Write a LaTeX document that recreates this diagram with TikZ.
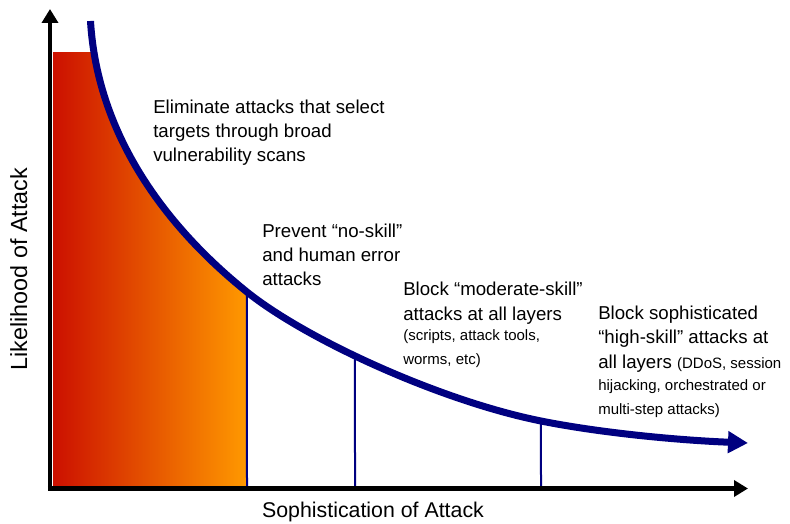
\documentclass[tikz,border=0pt]{standalone}
\usepackage{fontspec}
\setmainfont{Liberation Sans}
\usetikzlibrary{arrows.meta,intersections}
\definecolor{curvenavy}{RGB}{0,0,128}
\definecolor{lowred}{RGB}{204,16,0}
\definecolor{highorange}{RGB}{255,153,0}
\newcommand\smallnote[1]{{\fontsize{11.25}{13.5}\selectfont #1}}
\begin{document}
\begin{tikzpicture}[x=0.75pt,y=-0.75pt,
  axis/.style={line width=3.4pt, -{Triangle[length=10.5pt,width=12pt]}},
  riskcurve/.style={curvenavy, line width=5.25pt, -{Triangle[length=15pt,width=15.75pt]}},
  divider/.style={curvenavy, line width=1.5pt},
  callout/.style={anchor=base west, align=left, inner sep=0pt, font=\fontsize{14}{18.2}\selectfont},
  axislabel/.style={font=\fontsize{16}{19}\selectfont, inner sep=0pt},
  % likelihood curve, falling steeply and then flattening out
  riskpath/.style={insert path={(90.5,21) .. controls (97,130) and (160,222) .. (247,292)
      .. controls (307,340) and (441,401) .. (541,421)
      .. controls (601,433) and (678,440.2) .. (748,443)}}]
\useasboundingbox (0,0) rectangle (790,524);

% shaded area under the curve, left of the first divider
\begin{scope}
  \clip[riskpath] -- (748,490) -- (53,490) -- (53,21) -- cycle;
  \fill[left color=lowred, right color=highorange] (53,53) rectangle (247,488.5);
\end{scope}

\path[name path=risk, riskpath];

% dividers from the curve down to the horizontal axis
\coordinate (b1) at (247,488);
\coordinate (b2) at (355,488);
\coordinate (b3) at (541,488);
\path[name path=g1] (247,0) -- (247,500);
\path[name path=g2] (355,0) -- (355,500);
\path[name path=g3] (541,0) -- (541,500);
\path[name intersections={of=risk and g1, by=t1}];
\path[name intersections={of=risk and g2, by=t2}];
\path[name intersections={of=risk and g3, by=t3}];
\draw[divider] (t1) -- (b1);
\draw[divider] (t2) -- (b2);
\draw[divider] (t3) -- (b3);

\draw[riskcurve, riskpath];

% axes
\coordinate (ybase) at (50,490.7);
\coordinate (ytip) at (50,9);
\coordinate (xbase) at (47.8,488.5);
\coordinate (xtip) at (748,488.5);
\draw[axis] (ybase) -- (ytip);
\draw[axis] (xbase) -- (xtip);

% axis labels
\node[axislabel, anchor=base] (xlab) at (373,517) {Sophistication of Attack};
\node[axislabel, font=\fontsize{17.5}{20}\selectfont, rotate=90, anchor=base] (ylab) at (27,269) {Likelihood of Attack};

% callouts (anchored at the baseline of their last line)
\node[callout] (scan) at (153,162) {Eliminate attacks that select\\targets through broad\\vulnerability scans};
\node[callout] (noskill) at (262,286) {Prevent “no-skill”\\and human error\\attacks};
\node[callout] (moderate) at (403,364) {Block “moderate-skill”\\attacks at all layers\\[-2.45pt]\smallnote{(scripts, attack tools,}\\[-0.95pt]\smallnote{worms, etc)}};
\node[callout] (highskill) at (598,414) {Block sophisticated\\“high-skill” attacks at\\all layers \smallnote{(DDoS, session}\\[-0.95pt]\smallnote{hijacking, orchestrated or}\\[-0.95pt]\smallnote{multi-step attacks)}};
\end{tikzpicture}
\end{document}
